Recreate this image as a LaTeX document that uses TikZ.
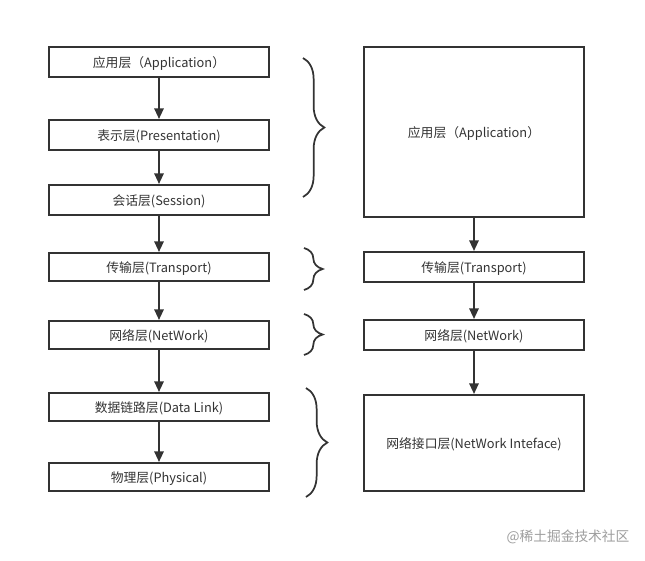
\documentclass[tikz,border=0pt]{standalone}
\usepackage{fontspec}
\setmainfont{Noto Sans CJK SC}
\newfontfamily\tcpar{Noto Sans CJK TC}
\usetikzlibrary{arrows.meta,decorations.pathreplacing}
\definecolor{ln}{HTML}{333333}
\begin{document}
\begin{tikzpicture}[x=0.75pt,y=-0.75pt,
  box/.style={draw=ln,line width=1.5pt,rectangle,minimum width=165pt,inner sep=0pt,
    font=\fontsize{9.6pt}{11pt}\selectfont,text=ln,text height=0.76em,text depth=0pt},
  arr/.style={draw=ln,line width=1.5pt,-{Triangle[length=8pt,width=7pt]}},
  brc/.style={draw=ln,line width=1.3pt,decorate,decoration={brace,amplitude=16pt,aspect=0.5}}]
\useasboundingbox[fill=white] (0,0) rectangle (645,560);
% left stack
\node[box,minimum height=22.5pt] (a1) at (159,62) {应用层{\tcpar （}Application{\tcpar ）}};
\node[box,minimum height=22.5pt] (a2) at (159,135) {表示层(Presentation)};
\node[box,minimum height=22.5pt] (a3) at (159,200) {会话层(Session)};
\node[box,minimum height=21pt] (a4) at (159,267) {传输层(Transport)};
\node[box,minimum height=21pt] (a5) at (159,335) {网络层(NetWork)};
\node[box,minimum height=21pt] (a6) at (159,407) {数据链路层(Data Link)};
\node[box,minimum height=21pt] (a7) at (159,477) {物理层(Physical)};
\draw[arr] (a1) -- (a2);
\draw[arr] (a2) -- (a3);
\draw[arr] (a3) -- (a4);
\draw[arr] (a4) -- (a5);
\draw[arr] (a5) -- (a6);
\draw[arr] (a6) -- (a7);
% right stack
\node[box,minimum height=127.5pt] (b1) at (474,132) {应用层{\tcpar （}Application{\tcpar ）}};
\node[box,minimum height=22.5pt] (b2) at (474,267) {传输层(Transport)};
\node[box,minimum height=22.5pt] (b3) at (474,335) {网络层(NetWork)};
\node[box,minimum height=72pt] (b4) at (474,443) {网络接口层(NetWork Inteface)};
\draw[arr] (b1) -- (b2);
\draw[arr] (b2) -- (b3);
\draw[arr] (b3) -- (b4);
% braces
\coordinate (p1) at (303,58);  \coordinate (q1) at (303,197);
\coordinate (p2) at (304,248); \coordinate (q2) at (304,290);
\coordinate (p3) at (304,314); \coordinate (q3) at (304,355);
\coordinate (p4) at (306,388); \coordinate (q4) at (306,497);
\draw[brc] (p1) -- (q1);
\draw[brc,decoration={amplitude=14pt}] (p2) -- (q2);
\draw[brc,decoration={amplitude=14pt}] (p3) -- (q3);
\draw[brc] (p4) -- (q4);
% watermark
\node[text=black!38,font=\fontsize{10.3pt}{12pt}\selectfont] (wm) at (568,537) {@稀土掘金技术社区};
\end{tikzpicture}
\end{document}
